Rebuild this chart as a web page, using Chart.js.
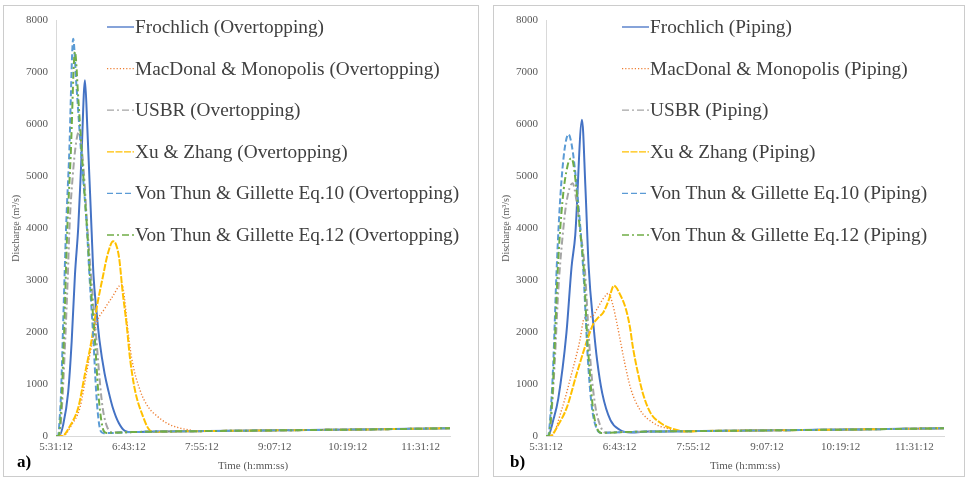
<!DOCTYPE html>
<html>
<head>
<meta charset="utf-8">
<script src="https://cdn.jsdelivr.net/npm/chart.js@4.4.1/dist/chart.umd.min.js"></script>
<style>
  body { margin: 0; background: #fff; width: 969px; height: 480px; position: relative; overflow: hidden; }
  .panel { position: absolute; top: 5px; height: 470px; border: 1px solid #cccccc; }
  .tag { position: absolute; top: 452px; font: bold 17px "Liberation Serif", serif; color: #000; }
</style>
</head>
<body>
<div class="panel" style="left:3px; width:474px;"><canvas id="chartA" width="474" height="470"></canvas></div>
<div class="panel" style="left:493px; width:470px;"><canvas id="chartB" width="470" height="470"></canvas></div>
<div class="tag" style="left:17px;">a)</div>
<div class="tag" style="left:510px;">b)</div>
<script>
// x ticks (minutes after 5:31:12)
const tickMinutes = [0, 72, 144, 216, 288, 360];
const tickLabels = ["5:31:12", "6:43:12", "7:55:12", "9:07:12", "10:19:12", "11:31:12"];

// a) Overtopping - time (min after 5:31:12) and discharge (m3/s)
const frochlichOT = [0, 3, 7, 12, 15.5, 18.7, 22, 25, 28.6, 31, 35.2, 37, 40, 43, 48, 52, 56, 62, 68, 75, 100, 150, 200, 250, 300, 350, 389];
const frochlichOQ = [0, 0, 210, 840, 1830, 3100, 4030, 5300, 6850, 5900, 3930, 3100, 2400, 1830, 1200, 850, 550, 250, 100, 75, 85, 95, 105, 115, 125, 138, 150];
const macdonalOT = [0, 7, 15, 23.7, 30, 36, 40.5, 48, 55, 65, 68, 70.3, 74.6, 83, 91, 100, 110, 121, 132, 142, 150, 200, 250, 300, 350, 389];
const macdonalOQ = [0, 0, 200, 550, 1200, 1830, 2200, 2450, 2660, 2920, 2600, 2150, 1510, 880, 560, 380, 240, 160, 115, 90, 95, 105, 115, 125, 138, 150];
const usbrOT = [0, 3, 6, 9, 11.5, 13.5, 16.5, 19.5, 22.5, 27, 31, 35, 40, 43.5, 46, 50, 55, 75, 100, 150, 200, 250, 300, 350, 389];
const usbrOQ = [0, 0, 600, 1800, 3000, 4100, 5000, 5600, 5850, 5200, 4000, 3000, 1830, 1000, 550, 200, 70, 75, 85, 95, 105, 115, 125, 138, 150];
const xuOT = [0, 6, 14, 22, 28.6, 35, 40, 46.6, 51, 56.5, 59, 62.4, 65.7, 69.7, 73, 78, 86, 91, 96, 110, 150, 200, 250, 300, 350, 389];
const xuOQ = [0, 0, 200, 550, 1200, 1830, 2450, 3100, 3500, 3750, 3700, 3420, 2790, 2150, 1510, 880, 370, 150, 75, 85, 95, 105, 115, 125, 138, 150];
const eq10OT = [0, 2, 3.5, 5, 7, 10, 13, 17, 20, 25, 30.5, 33, 37, 39.5, 41.5, 44, 47, 75, 100, 150, 200, 250, 300, 350, 389];
const eq10OQ = [0, 0, 300, 840, 2120, 4030, 5400, 7650, 6800, 5400, 4000, 3100, 1830, 900, 400, 100, 55, 75, 85, 95, 105, 115, 125, 138, 150];
const eq12OT = [0, 2.5, 5.5, 8, 11, 14.5, 18.7, 22, 27, 31, 33.5, 38.5, 41.5, 44, 47, 50, 75, 100, 150, 200, 250, 300, 350, 389];
const eq12OQ = [0, 0, 700, 2000, 3900, 5400, 7400, 6500, 5000, 3900, 3100, 1830, 900, 400, 100, 60, 75, 85, 95, 105, 115, 125, 138, 150];

// b) Piping
const frochlichPT = [0, 2, 7, 12, 20, 25, 28.6, 35.2, 38.5, 41.7, 46.6, 50, 55, 63, 72, 83, 100, 150, 200, 250, 300, 350, 389];
const frochlichPQ = [0, 0, 300, 720, 1990, 3260, 3870, 6090, 4800, 3260, 2090, 1450, 820, 305, 120, 65, 85, 95, 105, 115, 125, 138, 150];
const macdonalPT = [0, 5, 16, 25, 33, 37, 40, 45, 50, 55, 59, 61, 65, 69, 73, 77, 83, 92, 105, 120, 140, 150, 200, 250, 300, 350, 389];
const macdonalPQ = [0, 0, 550, 1200, 1830, 2250, 2290, 2300, 2450, 2620, 2720, 2750, 2550, 2200, 1800, 1400, 900, 500, 250, 140, 90, 95, 105, 115, 125, 138, 150];
const usbrPT = [0, 3, 6, 8.5, 12, 16, 20, 26, 30, 34, 38, 41, 44, 48, 53, 58, 75, 100, 150, 200, 250, 300, 350, 389];
const usbrPQ = [0, 0, 600, 1400, 2800, 3800, 4500, 4870, 4500, 3900, 3200, 2200, 1300, 600, 200, 65, 75, 85, 95, 105, 115, 125, 138, 150];
const xuPT = [0, 4, 13, 20.4, 30, 40, 46, 51, 56, 61, 66.4, 73, 78, 82, 85, 90, 95, 102, 112, 125, 140, 150, 200, 250, 300, 350, 389];
const xuPQ = [0, 0, 250, 550, 1200, 1830, 2150, 2280, 2380, 2600, 2895, 2700, 2450, 2100, 1700, 1200, 800, 450, 250, 130, 85, 95, 105, 115, 125, 138, 150];
const eq10PT = [0, 2, 5, 7, 10.5, 14, 18, 22, 26, 30, 34, 37, 39.5, 41, 43.5, 46, 50, 54, 75, 100, 150, 200, 250, 300, 350, 389];
const eq10PQ = [0, 0, 600, 1355, 3260, 4600, 5500, 5810, 5500, 4800, 3900, 3000, 2000, 1450, 800, 400, 120, 60, 75, 85, 95, 105, 115, 125, 138, 150];
const eq12PT = [0, 2.5, 6, 8, 11.5, 16, 21, 25, 29, 33, 37, 40, 42.5, 45.5, 49, 54, 75, 100, 150, 200, 250, 300, 350, 389];
const eq12PQ = [0, 0, 700, 1500, 3200, 4500, 5200, 5350, 4900, 4000, 3200, 2000, 1300, 600, 200, 60, 75, 85, 95, 105, 115, 125, 138, 150];

const namesO = ["Frochlich (Overtopping)", "MacDonal & Monopolis (Overtopping)", "USBR (Overtopping)",
  "Xu & Zhang (Overtopping)", "Von Thun & Gillette Eq.10 (Overtopping)", "Von Thun & Gillette Eq.12 (Overtopping)"];
const namesP = ["Frochlich (Piping)", "MacDonal & Monopolis (Piping)", "USBR (Piping)",
  "Xu & Zhang (Piping)", "Von Thun & Gillette Eq.10 (Piping)", "Von Thun & Gillette Eq.12 (Piping)"];

// line styles, excel-ish
const styles = [
  { color: "#4472C4", dash: [], width: 2 },
  { color: "#ED7D31", dash: [1.2, 2], width: 1.4 },
  { color: "#A5A5A5", dash: [7, 3, 2, 3], width: 2 },
  { color: "#FFC000", dash: [7, 1.5], width: 2 },
  { color: "#5B9BD5", dash: [6, 3], width: 2 },
  { color: "#70AD47", dash: [7, 3, 2, 3], width: 2 },
];

function toPoints(t, q) {
  return t.map((v, i) => ({ x: v, y: q[i] }));
}

function makeDatasets(names, series) {
  return series.map((s, i) => ({
    label: names[i],
    data: toPoints(s[0], s[1]),
    borderColor: styles[i].color,
    borderDash: styles[i].dash,
    borderWidth: styles[i].width,
    pointRadius: 0,
    fill: false,
    cubicInterpolationMode: "monotone",
    order: 5 - i,
  }));
}

// legend drawn inside the plot area, like the original
const insideLegend = {
  id: "insideLegend",
  afterDatasetsDraw(chart, args, opts) {
    const ctx = chart.ctx;
    ctx.save();
    ctx.font = '19.3px "Liberation Serif"';
    ctx.fillStyle = "#404040";
    ctx.textBaseline = "middle";
    chart.data.datasets.forEach((ds, i) => {
      const y = opts.y + i * opts.dy;
      ctx.beginPath();
      ctx.strokeStyle = ds.borderColor;
      ctx.lineWidth = 1.3;
      ctx.setLineDash(ds.borderDash);
      ctx.moveTo(opts.x, y);
      ctx.lineTo(opts.x + 27, y);
      ctx.stroke();
      ctx.fillText(ds.label, opts.x + 28, y + 1);
    });
    ctx.restore();
  },
};

function buildChart(id, names, series, padRight, legendX) {
  const ctx = document.getElementById(id).getContext("2d");
  return new Chart(ctx, {
    type: "line",
    data: { datasets: makeDatasets(names, series) },
    plugins: [insideLegend],
    options: {
      responsive: false,
      animation: false,
      devicePixelRatio: 1,
      layout: { padding: { top: 11, right: padRight, bottom: 3, left: 6 } },
      plugins: {
        legend: { display: false },
        tooltip: { enabled: false },
        insideLegend: { x: legendX, y: 21, dy: 41.6 },
      },
      scales: {
        x: {
          type: "linear",
          min: 0,
          max: 389,
          grid: { display: false, drawTicks: false },
          border: { color: "#d9d9d9" },
          afterBuildTicks: (s) => { s.ticks = tickMinutes.map((v) => ({ value: v })); },
          afterFit: (s) => { s.height = 37; },
          ticks: {
            autoSkip: false,
            maxRotation: 0,
            padding: 5,
            color: "#595959",
            font: { family: "Liberation Serif", size: 11 },
            callback: (v, i) => tickLabels[i],
          },
          title: {
            display: true,
            text: "Time (h:mm:ss)",
            color: "#595959",
            font: { family: "Liberation Serif", size: 11 },
            padding: { top: 2, bottom: 0 },
          },
        },
        y: {
          min: 0,
          max: 8000,
          grid: { display: false, drawTicks: false },
          border: { color: "#d9d9d9" },
          afterFit: (s) => { s.width = 46; },
          ticks: {
            stepSize: 1000,
            padding: 8,
            color: "#595959",
            font: { family: "Liberation Serif", size: 11 },
            callback: (v) => String(v),
          },
          title: {
            display: true,
            text: "Discharge (m³/s)",
            color: "#595959",
            font: { family: "Liberation Serif", size: 10 },
            padding: { top: 0, bottom: 0 },
          },
        },
      },
    },
  });
}

buildChart("chartA", namesO, [
  [frochlichOT, frochlichOQ], [macdonalOT, macdonalOQ], [usbrOT, usbrOQ],
  [xuOT, xuOQ], [eq10OT, eq10OQ], [eq12OT, eq12OQ],
], 28, 103);

buildChart("chartB", namesP, [
  [frochlichPT, frochlichPQ], [macdonalPT, macdonalPQ], [usbrPT, usbrPQ],
  [xuPT, xuPQ], [eq10PT, eq10PQ], [eq12PT, eq12PQ],
], 20, 128);
</script>
</body>
</html>
